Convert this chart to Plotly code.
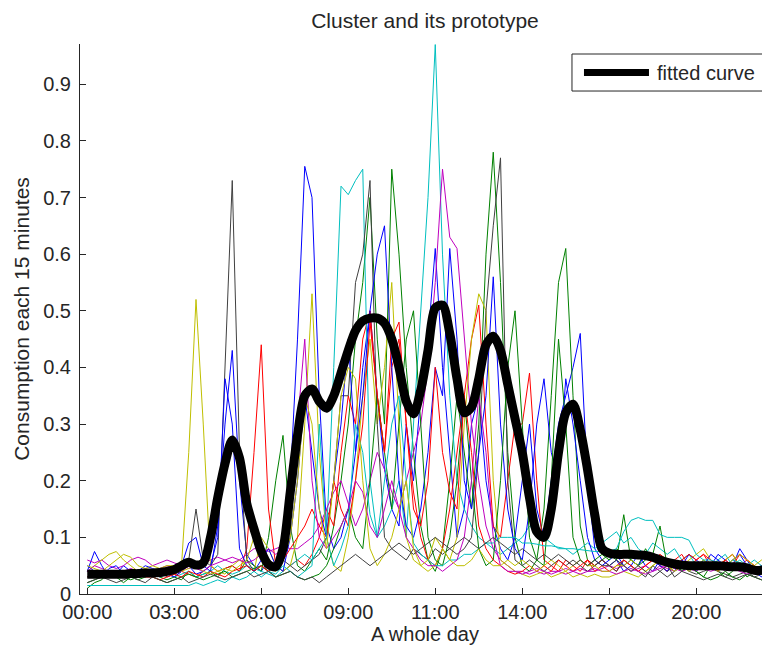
import plotly.graph_objects as go

# sample index (96 quarter-hours)
idx = list(range(1, 97))

tick_vals = [1, 13, 25, 37, 49, 61, 73, 85]
tick_text = ["00:00", "03:00", "06:00", "09:00", "11:00", "14:00", "17:00", "20:00"]
y_ticks = [0, 0.1, 0.2, 0.3, 0.4, 0.5, 0.6, 0.7, 0.8, 0.9]
y_tick_text = ["0", "0.1", "0.2", "0.3", "0.4", "0.5", "0.6", "0.7", "0.8", "0.9"]

fitted = [0.035,0.035,0.035,0.035,0.035,0.035,0.036,0.036,0.037,0.037,0.038,0.040,
          0.043,0.050,0.056,0.051,0.055,0.10,0.17,0.23,0.272,0.24,0.16,0.115,
          0.075,0.052,0.048,0.08,0.18,0.28,0.35,0.362,0.34,0.328,0.35,0.39,
          0.43,0.465,0.482,0.487,0.487,0.478,0.45,0.40,0.34,0.318,0.36,0.43,
          0.505,0.51,0.46,0.38,0.32,0.33,0.38,0.44,0.455,0.43,0.37,0.31,
          0.25,0.17,0.11,0.10,0.15,0.25,0.32,0.335,0.29,0.22,0.14,0.08,
          0.072,0.07,0.07,0.07,0.069,0.068,0.065,0.06,0.056,0.053,0.051,0.05,
          0.05,0.05,0.05,0.05,0.049,0.048,0.048,0.046,0.042,0.042,0.045,0.047]

blue1 = [0.04,0.075,0.05,0.03,0.035,0.05,0.04,0.03,0.035,0.04,0.03,0.035,
         0.04,0.05,0.09,0.10,0.05,0.04,0.12,0.30,0.43,0.20,0.07,0.05,
         0.04,0.06,0.05,0.08,0.20,0.45,0.755,0.70,0.35,0.12,0.08,0.10,
         0.15,0.25,0.40,0.50,0.35,0.22,0.15,0.12,0.30,0.20,0.35,0.45,
         0.61,0.40,0.25,0.10,0.15,0.30,0.35,0.20,0.12,0.08,0.06,0.10,
         0.20,0.30,0.15,0.10,0.20,0.30,0.35,0.40,0.46,0.20,0.08,0.06,
         0.05,0.06,0.04,0.05,0.07,0.05,0.04,0.06,0.05,0.04,0.06,0.05,
         0.04,0.06,0.05,0.07,0.06,0.05,0.08,0.06,0.04,0.05,0.06,0.05]
green1 = [0.01,0.02,0.025,0.04,0.03,0.02,0.03,0.025,0.03,0.04,0.03,0.025,
          0.03,0.025,0.04,0.03,0.035,0.04,0.03,0.045,0.05,0.04,0.06,0.05,
          0.04,0.10,0.20,0.28,0.12,0.05,0.04,0.06,0.08,0.06,0.12,0.20,
          0.30,0.45,0.55,0.70,0.45,0.30,0.75,0.60,0.40,0.25,0.12,0.06,
          0.04,0.08,0.20,0.35,0.25,0.15,0.30,0.60,0.78,0.55,0.25,0.10,
          0.05,0.04,0.06,0.15,0.35,0.55,0.61,0.35,0.12,0.06,0.05,0.06,
          0.07,0.06,0.14,0.06,0.05,0.08,0.06,0.05,0.04,0.05,0.04,0.05,
          0.04,0.03,0.05,0.04,0.03,0.04,0.05,0.03,0.04,0.05,0.04,0.03]
red1 = [0.03,0.04,0.03,0.035,0.04,0.03,0.035,0.04,0.03,0.03,0.035,0.04,
        0.03,0.04,0.035,0.03,0.04,0.05,0.04,0.045,0.05,0.04,0.08,0.25,
        0.44,0.15,0.05,0.04,0.05,0.06,0.05,0.07,0.10,0.15,0.12,0.25,
        0.35,0.30,0.45,0.50,0.35,0.25,0.40,0.45,0.30,0.18,0.10,0.06,
        0.05,0.08,0.15,0.25,0.35,0.45,0.51,0.30,0.12,0.10,0.20,0.30,
        0.30,0.39,0.20,0.06,0.05,0.04,0.06,0.05,0.04,0.06,0.05,0.06,
        0.05,0.04,0.06,0.05,0.04,0.05,0.06,0.05,0.04,0.06,0.07,0.05,
        0.06,0.07,0.05,0.04,0.06,0.07,0.05,0.06,0.05,0.04,0.06,0.05]
cyan1 = [0.04,0.03,0.035,0.03,0.04,0.035,0.03,0.04,0.035,0.03,0.035,0.04,
         0.03,0.035,0.04,0.03,0.035,0.04,0.05,0.04,0.035,0.04,0.05,0.045,
         0.04,0.035,0.03,0.04,0.05,0.06,0.07,0.06,0.08,0.10,0.40,0.72,
         0.705,0.73,0.75,0.20,0.10,0.12,0.15,0.20,0.10,0.30,0.50,0.70,
         0.97,0.60,0.35,0.20,0.15,0.12,0.10,0.09,0.08,0.07,0.08,0.09,
         0.10,0.12,0.11,0.10,0.09,0.08,0.08,0.07,0.08,0.09,0.08,0.09,
         0.10,0.11,0.09,0.10,0.08,0.07,0.09,0.08,0.07,0.08,0.06,0.07,
         0.05,0.06,0.05,0.06,0.07,0.05,0.06,0.05,0.06,0.05,0.06,0.05]
magenta1 = [0.06,0.055,0.06,0.05,0.045,0.05,0.06,0.065,0.06,0.05,0.055,0.06,
            0.055,0.05,0.045,0.05,0.055,0.06,0.065,0.06,0.055,0.06,0.07,0.08,
            0.08,0.075,0.08,0.085,0.08,0.08,0.09,0.10,0.12,0.15,0.18,0.20,
            0.16,0.12,0.15,0.20,0.25,0.22,0.18,0.15,0.20,0.25,0.30,0.40,
            0.55,0.75,0.63,0.61,0.45,0.30,0.20,0.12,0.08,0.06,0.05,0.04,
            0.04,0.035,0.04,0.035,0.04,0.04,0.035,0.04,0.045,0.04,0.04,0.045,
            0.05,0.045,0.05,0.04,0.045,0.05,0.04,0.05,0.045,0.04,0.05,0.045,
            0.04,0.05,0.045,0.05,0.04,0.045,0.05,0.04,0.045,0.05,0.04,0.045]
yellow1 = [0.04,0.05,0.06,0.07,0.075,0.06,0.05,0.04,0.045,0.05,0.045,0.04,
           0.045,0.05,0.25,0.52,0.30,0.05,0.04,0.035,0.05,0.06,0.05,0.04,
           0.10,0.08,0.05,0.04,0.05,0.10,0.30,0.53,0.25,0.10,0.05,0.04,
           0.10,0.20,0.35,0.45,0.30,0.40,0.55,0.30,0.10,0.06,0.05,0.04,
           0.05,0.08,0.06,0.10,0.30,0.45,0.53,0.50,0.20,0.06,0.05,0.04,
           0.035,0.03,0.035,0.04,0.03,0.035,0.04,0.03,0.035,0.03,0.035,0.03,
           0.03,0.035,0.04,0.035,0.03,0.04,0.05,0.06,0.05,0.04,0.05,0.06,
           0.07,0.08,0.06,0.05,0.06,0.07,0.05,0.04,0.05,0.06,0.05,0.04]
gray1 = [0.03,0.035,0.04,0.03,0.035,0.03,0.04,0.035,0.03,0.035,0.04,0.03,
         0.035,0.04,0.06,0.15,0.06,0.05,0.07,0.40,0.73,0.25,0.06,0.04,
         0.05,0.04,0.05,0.06,0.05,0.04,0.05,0.06,0.07,0.10,0.20,0.35,
         0.35,0.55,0.60,0.73,0.30,0.10,0.08,0.07,0.06,0.08,0.07,0.06,
         0.08,0.07,0.08,0.07,0.08,0.10,0.25,0.50,0.65,0.77,0.20,0.06,
         0.05,0.06,0.05,0.04,0.05,0.06,0.05,0.06,0.05,0.04,0.05,0.06,
         0.05,0.04,0.06,0.05,0.04,0.03,0.05,0.04,0.03,0.04,0.05,0.04,
         0.035,0.04,0.045,0.04,0.035,0.03,0.035,0.04,0.03,0.035,0.04,0.035]
blue2 = [0.05,0.04,0.03,0.045,0.05,0.035,0.03,0.04,0.05,0.045,0.04,0.035,
         0.03,0.04,0.05,0.035,0.04,0.05,0.10,0.38,0.30,0.08,0.05,0.04,
         0.06,0.08,0.05,0.04,0.10,0.20,0.35,0.25,0.15,0.10,0.20,0.30,
         0.45,0.25,0.35,0.50,0.60,0.65,0.40,0.20,0.12,0.10,0.15,0.25,
         0.40,0.35,0.61,0.45,0.20,0.15,0.25,0.35,0.56,0.30,0.15,0.08,
         0.06,0.15,0.30,0.38,0.25,0.20,0.38,0.30,0.20,0.10,0.06,0.05,
         0.06,0.07,0.05,0.06,0.05,0.07,0.06,0.05,0.04,0.06,0.05,0.07,
         0.06,0.05,0.07,0.06,0.05,0.06,0.07,0.05,0.04,0.03,0.05,0.06]
green2 = [0.02,0.025,0.03,0.04,0.035,0.03,0.025,0.03,0.035,0.03,0.025,0.02,
          0.025,0.03,0.035,0.03,0.025,0.03,0.035,0.04,0.03,0.035,0.04,0.045,
          0.05,0.04,0.03,0.035,0.04,0.03,0.025,0.03,0.035,0.05,0.08,0.12,
          0.15,0.10,0.08,0.20,0.35,0.25,0.15,0.30,0.45,0.50,0.30,0.10,
          0.06,0.05,0.10,0.20,0.35,0.20,0.08,0.05,0.06,0.20,0.40,0.50,
          0.30,0.10,0.06,0.05,0.20,0.45,0.30,0.10,0.06,0.05,0.06,0.07,
          0.06,0.08,0.07,0.06,0.05,0.06,0.07,0.12,0.05,0.06,0.04,0.05,
          0.04,0.03,0.025,0.03,0.04,0.03,0.025,0.035,0.03,0.025,0.03,0.035]
red2 = [0.04,0.035,0.04,0.03,0.035,0.04,0.03,0.035,0.04,0.03,0.025,0.03,
        0.035,0.03,0.04,0.035,0.03,0.04,0.035,0.03,0.04,0.045,0.05,0.04,
        0.05,0.04,0.05,0.06,0.08,0.10,0.12,0.15,0.12,0.10,0.20,0.15,
        0.12,0.20,0.30,0.48,0.35,0.25,0.45,0.48,0.30,0.15,0.12,0.20,
        0.40,0.25,0.18,0.15,0.35,0.25,0.12,0.08,0.06,0.05,0.04,0.035,
        0.04,0.05,0.04,0.05,0.04,0.06,0.05,0.04,0.05,0.06,0.04,0.05,
        0.04,0.05,0.06,0.05,0.04,0.05,0.06,0.07,0.06,0.05,0.06,0.07,
        0.06,0.07,0.06,0.05,0.06,0.05,0.07,0.06,0.05,0.04,0.05,0.06]
cyan2 = [0.015,0.015,0.015,0.015,0.015,0.015,0.015,0.015,0.015,0.015,0.015,0.015,
         0.015,0.015,0.015,0.02,0.015,0.02,0.025,0.02,0.03,0.025,0.03,0.04,
         0.03,0.04,0.035,0.05,0.04,0.03,0.04,0.05,0.30,0.10,0.05,0.08,
         0.12,0.30,0.25,0.14,0.10,0.20,0.30,0.35,0.20,0.09,0.07,0.06,
         0.05,0.05,0.06,0.06,0.07,0.07,0.08,0.09,0.09,0.10,0.10,0.10,
         0.09,0.09,0.088,0.085,0.085,0.083,0.08,0.08,0.078,0.076,0.075,0.075,
         0.075,0.08,0.11,0.13,0.135,0.13,0.13,0.105,0.10,0.10,0.10,0.095,
         0.07,0.06,0.06,0.055,0.05,0.06,0.055,0.05,0.045,0.05,0.05,0.045]
magenta2 = [0.04,0.05,0.045,0.04,0.035,0.04,0.045,0.04,0.035,0.04,0.045,0.05,
            0.045,0.04,0.05,0.045,0.04,0.05,0.055,0.06,0.065,0.06,0.055,0.06,
            0.07,0.08,0.07,0.08,0.15,0.30,0.45,0.20,0.10,0.08,0.10,0.12,
            0.15,0.20,0.18,0.12,0.10,0.15,0.20,0.15,0.10,0.08,0.06,0.05,
            0.05,0.04,0.05,0.06,0.10,0.20,0.35,0.25,0.10,0.05,0.04,0.04,
            0.035,0.04,0.045,0.04,0.035,0.04,0.045,0.04,0.035,0.04,0.045,0.04,
            0.04,0.035,0.04,0.045,0.04,0.035,0.04,0.045,0.05,0.045,0.04,0.045,
            0.05,0.045,0.04,0.045,0.05,0.045,0.04,0.035,0.04,0.045,0.04,0.035]
yellow2 = [0.05,0.045,0.04,0.05,0.06,0.07,0.065,0.05,0.045,0.04,0.045,0.05,
           0.05,0.04,0.045,0.05,0.04,0.035,0.04,0.045,0.04,0.05,0.06,0.10,
           0.08,0.05,0.04,0.06,0.10,0.20,0.35,0.30,0.15,0.08,0.20,0.35,
           0.40,0.38,0.20,0.08,0.05,0.07,0.10,0.15,0.20,0.08,0.05,0.06,
           0.10,0.08,0.06,0.05,0.05,0.06,0.08,0.06,0.05,0.05,0.06,0.05,
           0.06,0.05,0.04,0.05,0.06,0.05,0.04,0.05,0.06,0.05,0.05,0.04,
           0.04,0.05,0.05,0.06,0.05,0.04,0.05,0.06,0.05,0.04,0.05,0.04,
           0.05,0.06,0.05,0.04,0.05,0.06,0.07,0.06,0.05,0.04,0.05,0.06]
gray2 = [0.02,0.025,0.03,0.025,0.02,0.025,0.03,0.025,0.02,0.03,0.025,0.02,
         0.025,0.03,0.02,0.025,0.03,0.035,0.03,0.025,0.03,0.035,0.04,0.03,
         0.035,0.04,0.03,0.035,0.04,0.03,0.025,0.03,0.02,0.03,0.04,0.05,
         0.06,0.07,0.06,0.05,0.06,0.07,0.08,0.09,0.08,0.07,0.08,0.09,
         0.10,0.09,0.08,0.09,0.10,0.09,0.08,0.09,0.10,0.09,0.08,0.07,
         0.08,0.07,0.06,0.07,0.06,0.07,0.06,0.05,0.06,0.05,0.06,0.05,
         0.05,0.06,0.05,0.04,0.05,0.04,0.03,0.04,0.05,0.03,0.04,0.035,
         0.03,0.025,0.03,0.035,0.03,0.025,0.03,0.035,0.03,0.025,0.03,0.025]

series = [blue1, green1, red1, cyan1, magenta1, yellow1, gray1,
          blue2, green2, red2, cyan2, magenta2, yellow2, gray2]
colors = ["#0000FF", "#008000", "#FF0000", "#00BFBF", "#BF00BF", "#BFBF00", "#404040"]

legend_label = "fitted curve"

fig = go.Figure()
for k, s in enumerate(series):
    fig.add_trace(go.Scatter(x=idx, y=s, mode="lines",
                             line=dict(color=colors[k % 7], width=1),
                             showlegend=False, hoverinfo="skip"))
fig.add_trace(go.Scatter(x=idx, y=fitted, mode="lines", name=legend_label,
                         line=dict(color="black", width=9, shape="spline", smoothing=0.8),
                         showlegend=False))

# MATLAB-style legend box (paper coordinates of the plotting area)
fig.add_shape(type="rect", xref="paper", yref="paper",
              x0=0.713, x1=0.9957, y0=0.9145, y1=0.9818,
              line=dict(color="#262626", width=1), fillcolor="white", layer="above")
fig.add_shape(type="line", xref="paper", yref="paper",
              x0=0.7304, x1=0.8246, y0=0.948, y1=0.948,
              line=dict(color="black", width=7), layer="above")
fig.add_annotation(xref="paper", yref="paper", x=0.834, y=0.948,
                   xanchor="left", yanchor="middle", text=legend_label,
                   showarrow=False, font=dict(size=20, color="#262626"))

font_family = "Liberation Sans, Arial, sans-serif"
W, H = 762, 645  # page body has an 8px default margin
fig.update_layout(
    width=W, height=H,
    margin=dict(l=72, r=0, t=36, b=59),
    paper_bgcolor="white", plot_bgcolor="white",
    font=dict(family=font_family, size=20, color="#262626"),
    title=dict(text="Cluster and its prototype", x=(425 - 8) / W, xanchor="center",
               y=1 - 13 / H, yanchor="middle", font=dict(size=21, color="#262626")),
    xaxis=dict(range=[0, 95.17], tickvals=tick_vals, ticktext=tick_text,
               showgrid=False, zeroline=False, showline=True, linecolor="#262626",
               linewidth=1, ticks="inside", ticklen=6, tickcolor="#262626",
               title=dict(text="A whole day", standoff=4, font=dict(size=20)),
               tickfont=dict(size=20)),
    yaxis=dict(range=[0, 0.971], tickvals=y_ticks, ticktext=y_tick_text,
               showgrid=False, zeroline=False, showline=True, linecolor="#262626",
               linewidth=1, ticks="inside", ticklen=6, tickcolor="#262626",
               ticklabelstandoff=4,
               title=dict(text="Consumption each 15 minutes", standoff=7, font=dict(size=21)),
               tickfont=dict(size=20)),
    showlegend=False,
)

fig.write_html("out.html")
